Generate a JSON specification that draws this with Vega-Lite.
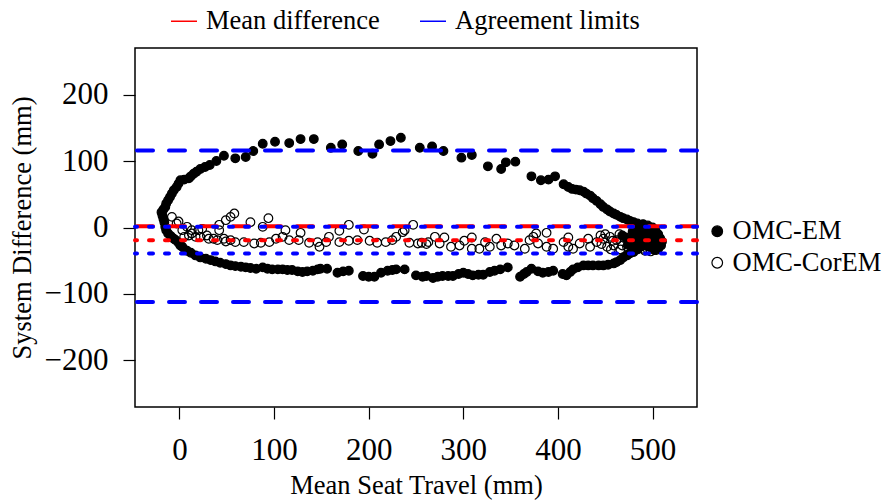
{
  "$schema": "https://vega.github.io/schema/vega-lite/v6.json",
  "width": 562,
  "height": 359,
  "autosize": {"type": "none"},
  "padding": {"left": 135, "top": 48, "right": 187, "bottom": 96},
  "background": "white",
  "config": {
    "font": "Liberation Serif",
    "style": {"guide-label": {"font": "Liberation Serif", "fill": "black"}, "guide-title": {"font": "Liberation Serif", "fill": "black"}},
    "view": {"stroke": "black", "strokeWidth": 1.5},
    "axis": {"grid": false, "domain": false, "tickColor": "black", "tickSize": 12, "tickWidth": 1.2, "labelColor": "black", "titleColor": "black", "labelFont": "Liberation Serif", "titleFont": "Liberation Serif", "labelFontSize": 31, "titleFontSize": 26.5, "titleFontWeight": "normal"},
    "legend": {"labelFont": "Liberation Serif", "labelColor": "black", "labelFontSize": 26.5, "padding": 0, "labelLimit": 0}
  },
  "datasets": {
    "pts": [
      {"s":"OMC-EM","x":495,"y":3},{"s":"OMC-EM","x":490,"y":5},{"s":"OMC-EM","x":487,"y":2},{"s":"OMC-EM","x":484,"y":6},{"s":"OMC-EM","x":480,"y":8},{"s":"OMC-EM","x":476,"y":10},{"s":"OMC-EM","x":473,"y":12},{"s":"OMC-EM","x":469,"y":14},{"s":"OMC-EM","x":466,"y":16},{"s":"OMC-EM","x":462,"y":19},{"s":"OMC-EM","x":459,"y":21},{"s":"OMC-EM","x":455,"y":24},{"s":"OMC-EM","x":452,"y":27},{"s":"OMC-EM","x":448,"y":31},{"s":"OMC-EM","x":445,"y":35},{"s":"OMC-EM","x":441,"y":40},{"s":"OMC-EM","x":437,"y":44},{"s":"OMC-EM","x":434,"y":48},{"s":"OMC-EM","x":430,"y":51},{"s":"OMC-EM","x":427,"y":54},{"s":"OMC-EM","x":423,"y":56},{"s":"OMC-EM","x":419,"y":57},{"s":"OMC-EM","x":415,"y":58},{"s":"OMC-EM","x":411,"y":61},{"s":"OMC-EM","x":406,"y":65},{"s":"OMC-EM","x":397,"y":77},{"s":"OMC-EM","x":390,"y":72},{"s":"OMC-EM","x":382,"y":71},{"s":"OMC-EM","x":372,"y":77},{"s":"OMC-EM","x":355,"y":99},{"s":"OMC-EM","x":345,"y":98},{"s":"OMC-EM","x":340,"y":88},{"s":"OMC-EM","x":326,"y":92},{"s":"OMC-EM","x":309,"y":109},{"s":"OMC-EM","x":298,"y":105},{"s":"OMC-EM","x":279,"y":115},{"s":"OMC-EM","x":267,"y":122},{"s":"OMC-EM","x":254,"y":120},{"s":"OMC-EM","x":234,"y":135},{"s":"OMC-EM","x":223,"y":130},{"s":"OMC-EM","x":211,"y":125},{"s":"OMC-EM","x":204,"y":111},{"s":"OMC-EM","x":189,"y":115},{"s":"OMC-EM","x":172,"y":125},{"s":"OMC-EM","x":160,"y":120},{"s":"OMC-EM","x":142,"y":133},{"s":"OMC-EM","x":128,"y":133},{"s":"OMC-EM","x":116,"y":127},{"s":"OMC-EM","x":101,"y":129},{"s":"OMC-EM","x":88,"y":126},{"s":"OMC-EM","x":78,"y":115},{"s":"OMC-EM","x":70,"y":106},{"s":"OMC-EM","x":59,"y":104},{"s":"OMC-EM","x":47,"y":108},{"s":"OMC-EM","x":39,"y":100},{"s":"OMC-EM","x":32,"y":94},{"s":"OMC-EM","x":27,"y":91},{"s":"OMC-EM","x":22,"y":88},{"s":"OMC-EM","x":18,"y":84},{"s":"OMC-EM","x":15,"y":81},{"s":"OMC-EM","x":12,"y":77},{"s":"OMC-EM","x":10,"y":74},{"s":"OMC-EM","x":5,"y":72},{"s":"OMC-EM","x":1,"y":71},{"s":"OMC-EM","x":-1,"y":66},{"s":"OMC-EM","x":-3,"y":61},{"s":"OMC-EM","x":-6,"y":56},{"s":"OMC-EM","x":-8,"y":51},{"s":"OMC-EM","x":-10,"y":46},{"s":"OMC-EM","x":-12,"y":41},{"s":"OMC-EM","x":-14,"y":36},{"s":"OMC-EM","x":-15,"y":31},{"s":"OMC-EM","x":-17,"y":27},{"s":"OMC-EM","x":-19,"y":23},{"s":"OMC-EM","x":-18,"y":18},{"s":"OMC-EM","x":-17,"y":13},{"s":"OMC-EM","x":-16,"y":8},{"s":"OMC-EM","x":-15,"y":1},{"s":"OMC-EM","x":-14,"y":-4},{"s":"OMC-EM","x":-12,"y":-9},{"s":"OMC-EM","x":-9,"y":-13},{"s":"OMC-EM","x":-6,"y":-17},{"s":"OMC-EM","x":-4,"y":-19},{"s":"OMC-EM","x":-1,"y":-23},{"s":"OMC-EM","x":1,"y":-27},{"s":"OMC-EM","x":3,"y":-29},{"s":"OMC-EM","x":6,"y":-34},{"s":"OMC-EM","x":8,"y":-35},{"s":"OMC-EM","x":12,"y":-38},{"s":"OMC-EM","x":17,"y":-42},{"s":"OMC-EM","x":22,"y":-45},{"s":"OMC-EM","x":28,"y":-47},{"s":"OMC-EM","x":33,"y":-49},{"s":"OMC-EM","x":38,"y":-51},{"s":"OMC-EM","x":43,"y":-53},{"s":"OMC-EM","x":49,"y":-55},{"s":"OMC-EM","x":54,"y":-57},{"s":"OMC-EM","x":59,"y":-58},{"s":"OMC-EM","x":65,"y":-59},{"s":"OMC-EM","x":70,"y":-60},{"s":"OMC-EM","x":75,"y":-61},{"s":"OMC-EM","x":81,"y":-62},{"s":"OMC-EM","x":88,"y":-60},{"s":"OMC-EM","x":93,"y":-62},{"s":"OMC-EM","x":98,"y":-63},{"s":"OMC-EM","x":104,"y":-63},{"s":"OMC-EM","x":109,"y":-63},{"s":"OMC-EM","x":114,"y":-64},{"s":"OMC-EM","x":119,"y":-64},{"s":"OMC-EM","x":125,"y":-66},{"s":"OMC-EM","x":130,"y":-67},{"s":"OMC-EM","x":135,"y":-66},{"s":"OMC-EM","x":141,"y":-65},{"s":"OMC-EM","x":146,"y":-63},{"s":"OMC-EM","x":149,"y":-62},{"s":"OMC-EM","x":156,"y":-62},{"s":"OMC-EM","x":167,"y":-68},{"s":"OMC-EM","x":173,"y":-66},{"s":"OMC-EM","x":179,"y":-65},{"s":"OMC-EM","x":194,"y":-73},{"s":"OMC-EM","x":200,"y":-74},{"s":"OMC-EM","x":206,"y":-74},{"s":"OMC-EM","x":213,"y":-68},{"s":"OMC-EM","x":220,"y":-65},{"s":"OMC-EM","x":225,"y":-64},{"s":"OMC-EM","x":229,"y":-63},{"s":"OMC-EM","x":238,"y":-63},{"s":"OMC-EM","x":250,"y":-72},{"s":"OMC-EM","x":257,"y":-74},{"s":"OMC-EM","x":261,"y":-73},{"s":"OMC-EM","x":268,"y":-76},{"s":"OMC-EM","x":273,"y":-74},{"s":"OMC-EM","x":278,"y":-73},{"s":"OMC-EM","x":284,"y":-73},{"s":"OMC-EM","x":289,"y":-73},{"s":"OMC-EM","x":295,"y":-70},{"s":"OMC-EM","x":300,"y":-68},{"s":"OMC-EM","x":305,"y":-70},{"s":"OMC-EM","x":310,"y":-72},{"s":"OMC-EM","x":316,"y":-71},{"s":"OMC-EM","x":321,"y":-71},{"s":"OMC-EM","x":328,"y":-67},{"s":"OMC-EM","x":333,"y":-65},{"s":"OMC-EM","x":339,"y":-63},{"s":"OMC-EM","x":347,"y":-60},{"s":"OMC-EM","x":360,"y":-74},{"s":"OMC-EM","x":364,"y":-70},{"s":"OMC-EM","x":367,"y":-67},{"s":"OMC-EM","x":372,"y":-62},{"s":"OMC-EM","x":379,"y":-66},{"s":"OMC-EM","x":384,"y":-68},{"s":"OMC-EM","x":390,"y":-67},{"s":"OMC-EM","x":395,"y":-65},{"s":"OMC-EM","x":405,"y":-70},{"s":"OMC-EM","x":409,"y":-72},{"s":"OMC-EM","x":413,"y":-67},{"s":"OMC-EM","x":416,"y":-63},{"s":"OMC-EM","x":421,"y":-60},{"s":"OMC-EM","x":427,"y":-57},{"s":"OMC-EM","x":432,"y":-57},{"s":"OMC-EM","x":437,"y":-57},{"s":"OMC-EM","x":443,"y":-57},{"s":"OMC-EM","x":448,"y":-57},{"s":"OMC-EM","x":453,"y":-56},{"s":"OMC-EM","x":459,"y":-54},{"s":"OMC-EM","x":462,"y":-52},{"s":"OMC-EM","x":466,"y":-49},{"s":"OMC-EM","x":469,"y":-45},{"s":"OMC-EM","x":473,"y":-42},{"s":"OMC-EM","x":476,"y":-39},{"s":"OMC-EM","x":480,"y":-37},{"s":"OMC-EM","x":484,"y":-33},{"s":"OMC-EM","x":487,"y":-29},{"s":"OMC-EM","x":490,"y":-25},{"s":"OMC-EM","x":494,"y":-22},{"s":"OMC-EM","x":497,"y":-15},{"s":"OMC-EM","x":498,"y":-9},{"s":"OMC-EM","x":494,"y":1},{"s":"OMC-EM","x":500,"y":0},{"s":"OMC-EM","x":503,"y":-4},{"s":"OMC-EM","x":506,"y":-10},{"s":"OMC-EM","x":508,"y":-16},{"s":"OMC-EM","x":510,"y":-21},{"s":"OMC-EM","x":509,"y":-27},{"s":"OMC-EM","x":506,"y":-32},{"s":"OMC-EM","x":502,"y":-34},{"s":"OMC-EM","x":498,"y":-30},{"s":"OMC-EM","x":494,"y":-28},{"s":"OMC-EM","x":491,"y":-18},{"s":"OMC-EM","x":488,"y":-10},{"s":"OMC-EM","x":485,"y":-4},{"s":"OMC-EM","x":482,"y":-1},{"s":"OMC-EM","x":479,"y":-6},{"s":"OMC-EM","x":483,"y":-14},{"s":"OMC-EM","x":487,"y":-20},{"s":"OMC-EM","x":495,"y":-12},{"s":"OMC-EM","x":500,"y":-20},{"s":"OMC-EM","x":504,"y":-26},{"s":"OMC-EM","x":492,"y":-3},{"s":"OMC-EM","x":497,"y":-6},{"s":"OMC-EM","x":501,"y":-12},{"s":"OMC-EM","x":505,"y":-18},{"s":"OMC-EM","x":468,"y":-12},{"s":"OMC-EM","x":472,"y":-15},{"s":"OMC-EM","x":476,"y":-18},{"s":"OMC-EM","x":474,"y":-26},{"s":"OMC-EM","x":478,"y":-28},{"s":"OMC-EM","x":482,"y":-24},
      {"s":"OMC-CorEM","x":-8,"y":16},{"s":"OMC-CorEM","x":-3,"y":6},{"s":"OMC-CorEM","x":-1,"y":9},{"s":"OMC-CorEM","x":3,"y":-4},{"s":"OMC-CorEM","x":8,"y":1},{"s":"OMC-CorEM","x":13,"y":-4},{"s":"OMC-CorEM","x":10,"y":-12},{"s":"OMC-CorEM","x":5,"y":-14},{"s":"OMC-CorEM","x":17,"y":-14},{"s":"OMC-CorEM","x":13,"y":-9},{"s":"OMC-CorEM","x":20,"y":-4},{"s":"OMC-CorEM","x":24,"y":-2},{"s":"OMC-CorEM","x":22,"y":-14},{"s":"OMC-CorEM","x":29,"y":-12},{"s":"OMC-CorEM","x":31,"y":-17},{"s":"OMC-CorEM","x":36,"y":-17},{"s":"OMC-CorEM","x":40,"y":-19},{"s":"OMC-CorEM","x":42,"y":-4},{"s":"OMC-CorEM","x":42,"y":4},{"s":"OMC-CorEM","x":47,"y":-17},{"s":"OMC-CorEM","x":49,"y":11},{"s":"OMC-CorEM","x":49,"y":-21},{"s":"OMC-CorEM","x":54,"y":16},{"s":"OMC-CorEM","x":54,"y":-19},{"s":"OMC-CorEM","x":58,"y":21},{"s":"OMC-CorEM","x":59,"y":-22},{"s":"OMC-CorEM","x":68,"y":-22},{"s":"OMC-CorEM","x":75,"y":8},{"s":"OMC-CorEM","x":79,"y":-24},{"s":"OMC-CorEM","x":86,"y":-23},{"s":"OMC-CorEM","x":88,"y":1},{"s":"OMC-CorEM","x":94,"y":14},{"s":"OMC-CorEM","x":95,"y":-22},{"s":"OMC-CorEM","x":102,"y":-17},{"s":"OMC-CorEM","x":109,"y":-14},{"s":"OMC-CorEM","x":112,"y":-4},{"s":"OMC-CorEM","x":116,"y":-19},{"s":"OMC-CorEM","x":126,"y":-19},{"s":"OMC-CorEM","x":128,"y":-8},{"s":"OMC-CorEM","x":137,"y":-23},{"s":"OMC-CorEM","x":146,"y":-22},{"s":"OMC-CorEM","x":148,"y":-29},{"s":"OMC-CorEM","x":155,"y":-22},{"s":"OMC-CorEM","x":158,"y":-14},{"s":"OMC-CorEM","x":169,"y":-22},{"s":"OMC-CorEM","x":169,"y":-5},{"s":"OMC-CorEM","x":179,"y":4},{"s":"OMC-CorEM","x":179,"y":-20},{"s":"OMC-CorEM","x":188,"y":-19},{"s":"OMC-CorEM","x":195,"y":-3},{"s":"OMC-CorEM","x":201,"y":-20},{"s":"OMC-CorEM","x":209,"y":-23},{"s":"OMC-CorEM","x":218,"y":-22},{"s":"OMC-CorEM","x":225,"y":-19},{"s":"OMC-CorEM","x":229,"y":-14},{"s":"OMC-CorEM","x":236,"y":-7},{"s":"OMC-CorEM","x":238,"y":-4},{"s":"OMC-CorEM","x":243,"y":-23},{"s":"OMC-CorEM","x":247,"y":4},{"s":"OMC-CorEM","x":252,"y":-24},{"s":"OMC-CorEM","x":256,"y":-23},{"s":"OMC-CorEM","x":261,"y":-25},{"s":"OMC-CorEM","x":263,"y":-22},{"s":"OMC-CorEM","x":270,"y":-14},{"s":"OMC-CorEM","x":275,"y":-24},{"s":"OMC-CorEM","x":280,"y":-15},{"s":"OMC-CorEM","x":287,"y":-29},{"s":"OMC-CorEM","x":296,"y":-27},{"s":"OMC-CorEM","x":301,"y":-20},{"s":"OMC-CorEM","x":309,"y":-15},{"s":"OMC-CorEM","x":309,"y":-32},{"s":"OMC-CorEM","x":317,"y":-32},{"s":"OMC-CorEM","x":323,"y":-22},{"s":"OMC-CorEM","x":328,"y":-29},{"s":"OMC-CorEM","x":335,"y":-17},{"s":"OMC-CorEM","x":340,"y":-27},{"s":"OMC-CorEM","x":347,"y":-24},{"s":"OMC-CorEM","x":354,"y":-27},{"s":"OMC-CorEM","x":365,"y":-32},{"s":"OMC-CorEM","x":370,"y":-19},{"s":"OMC-CorEM","x":374,"y":-14},{"s":"OMC-CorEM","x":377,"y":-9},{"s":"OMC-CorEM","x":379,"y":-24},{"s":"OMC-CorEM","x":388,"y":-8},{"s":"OMC-CorEM","x":388,"y":-29},{"s":"OMC-CorEM","x":395,"y":-32},{"s":"OMC-CorEM","x":406,"y":-22},{"s":"OMC-CorEM","x":411,"y":-15},{"s":"OMC-CorEM","x":411,"y":-29},{"s":"OMC-CorEM","x":416,"y":-32},{"s":"OMC-CorEM","x":423,"y":-24},{"s":"OMC-CorEM","x":432,"y":-17},{"s":"OMC-CorEM","x":434,"y":-29},{"s":"OMC-CorEM","x":441,"y":-22},{"s":"OMC-CorEM","x":448,"y":-17},{"s":"OMC-CorEM","x":452,"y":-29},{"s":"OMC-CorEM","x":459,"y":-27},{"s":"OMC-CorEM","x":462,"y":-19},{"s":"OMC-CorEM","x":468,"y":-27},{"s":"OMC-CorEM","x":473,"y":-29},{"s":"OMC-CorEM","x":478,"y":-22},{"s":"OMC-CorEM","x":482,"y":-27},{"s":"OMC-CorEM","x":486,"y":-30},{"s":"OMC-CorEM","x":490,"y":-32},{"s":"OMC-CorEM","x":495,"y":-33},{"s":"OMC-CorEM","x":500,"y":-31},{"s":"OMC-CorEM","x":504,"y":-34},{"s":"OMC-CorEM","x":498,"y":-36},{"s":"OMC-CorEM","x":492,"y":-35},{"s":"OMC-CorEM","x":445,"y":-12},{"s":"OMC-CorEM","x":450,"y":-10},{"s":"OMC-CorEM","x":455,"y":-14},{"s":"OMC-CorEM","x":458,"y":-20},{"s":"OMC-CorEM","x":465,"y":-10},{"s":"OMC-CorEM","x":470,"y":-16},{"s":"OMC-CorEM","x":466,"y":-33},{"s":"OMC-CorEM","x":456,"y":-33},{"s":"OMC-CorEM","x":446,"y":-25}
    ],
    "lines": [
      {"series":"OMC-EM","kind":"Mean difference","y":2},
      {"series":"OMC-EM","kind":"Agreement limits","y":116},
      {"series":"OMC-EM","kind":"Agreement limits","y":-112},
      {"series":"OMC-CorEM","kind":"Mean difference","y":-19},
      {"series":"OMC-CorEM","kind":"Agreement limits","y":1},
      {"series":"OMC-CorEM","kind":"Agreement limits","y":-39}
    ]
  },
  "layer": [
    {
      "data": {"name": "pts"},
      "mark": {"type": "point", "shape": "circle", "stroke": "black", "strokeWidth": 1.2, "size": 75, "opacity": 1},
      "encoding": {
        "x": {"field": "x", "type": "quantitative", "scale": {"domain": [-47, 547], "nice": false, "zero": false},
              "axis": {"title": "Mean Seat Travel (mm)", "values": [0, 100, 200, 300, 400, 500], "labelPadding": 16, "titlePadding": 7, "labelFont": "Liberation Serif", "titleFont": "Liberation Serif"}},
        "y": {"field": "y", "type": "quantitative", "scale": {"domain": [-270, 270], "nice": false, "zero": false},
              "axis": {"title": "System Difference (mm)", "values": [-200, -100, 0, 100, 200], "labelPadding": 15, "titlePadding": 8, "labelFont": "Liberation Serif", "titleFont": "Liberation Serif"}},
        "fill": {"field": "s", "type": "nominal",
                 "scale": {"domain": ["OMC-EM", "OMC-CorEM"], "range": ["black", "transparent"]},
                 "legend": {"title": null, "orient": "none", "legendX": 569, "legendY": 170, "symbolType": "circle", "symbolSize": 113, "symbolStrokeColor": "black", "symbolStrokeWidth": 1.2, "symbolDash": [], "labelOffset": 2, "rowPadding": 4.5, "labelFont": "Liberation Serif", "labelLimit": 0}}
      }
    },
    {
      "data": {"name": "lines"},
      "transform": [{"filter": "datum.series === 'OMC-EM'"}],
      "mark": {"type": "rule", "strokeWidth": 4, "strokeCap": "round", "strokeDash": [16, 16]},
      "encoding": {
        "y": {"field": "y", "type": "quantitative"},
        "color": {"field": "kind", "type": "nominal",
                  "scale": {"domain": ["Mean difference", "Agreement limits"], "range": ["#ff0000", "#0000ff"]},
                  "legend": {"title": null, "orient": "none", "direction": "horizontal", "legendX": 35, "legendY": -41, "symbolType": "stroke", "symbolSize": 676, "symbolStrokeWidth": 1.5, "symbolDash": [], "labelOffset": 8, "columnPadding": 37, "labelFont": "Liberation Serif", "labelLimit": 0}}
      }
    },
    {
      "data": {"name": "lines"},
      "transform": [{"filter": "datum.series === 'OMC-CorEM'"}],
      "mark": {"type": "rule", "strokeWidth": 4, "strokeCap": "round", "strokeDash": [4, 12]},
      "encoding": {
        "y": {"field": "y", "type": "quantitative"},
        "color": {"field": "kind", "type": "nominal"}
      }
    }
  ]
}
